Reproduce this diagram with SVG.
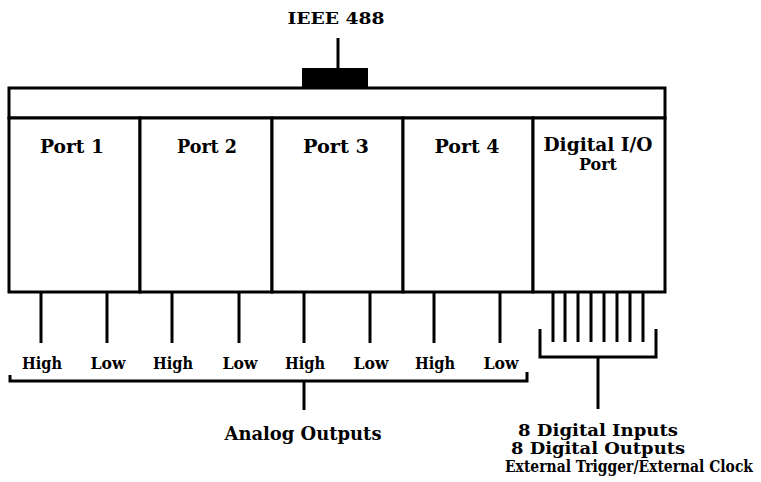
<svg xmlns="http://www.w3.org/2000/svg" width="761" height="482" viewBox="0 0 761 482">
<style>
text{font-family:"DejaVu Serif","Liberation Serif",serif;font-weight:bold;fill:#000;text-anchor:middle}
.p{font-size:19px}
.t{font-size:17px}
.d{font-size:16px}
.a{font-size:18px}
.s{font-size:16px}
.box{fill:#fff;stroke:#000;stroke-width:3}
.ln{stroke:#000;stroke-width:3;fill:none}
</style>
<rect width="761" height="482" fill="#fff"/>
<g id="bus">
<rect class="box" x="9" y="88" width="656" height="30"/>
<rect x="302" y="68" width="66" height="21" fill="#000"/>
<line class="ln" x1="338" y1="38" x2="338" y2="70"/>
<text class="t" x="336" y="24" textLength="97" lengthAdjust="spacingAndGlyphs">IEEE 488</text>
</g>
<g id="port1">
<rect class="box" x="9" y="118" width="131" height="174"/>
<text class="p" x="72" y="153" textLength="64" lengthAdjust="spacingAndGlyphs">Port 1</text>
</g>
<g id="port2">
<rect class="box" x="140" y="118" width="132" height="174"/>
<text class="p" x="207" y="153" textLength="60" lengthAdjust="spacingAndGlyphs">Port 2</text>
</g>
<g id="port3">
<rect class="box" x="272" y="118" width="131" height="174"/>
<text class="p" x="336" y="153" textLength="66" lengthAdjust="spacingAndGlyphs">Port 3</text>
</g>
<g id="port4">
<rect class="box" x="403" y="118" width="130" height="174"/>
<text class="p" x="467" y="153" textLength="65" lengthAdjust="spacingAndGlyphs">Port 4</text>
</g>
<g id="digital">
<rect class="box" x="533" y="118" width="132" height="174"/>
<text class="p" x="598" y="151" textLength="109" lengthAdjust="spacingAndGlyphs">Digital I/O</text>
<text class="t" x="598" y="170" textLength="38" lengthAdjust="spacingAndGlyphs">Port</text>
</g>
<g id="connectors">
<path class="ln" d="M41 292V343M107 292V343M172 292V343M239 292V343M304 292V343M370 292V343M434 292V343M500 292V343"/>
<path class="ln" d="M553 292V342M565 292V342M578 292V342M591 292V342M604 292V342M617 292V342M630 292V342M643 292V342"/>
<path class="ln" d="M10 375V381H527V372"/>
<line class="ln" x1="304" y1="381" x2="304" y2="410"/>
<path class="ln" d="M540 329V357H656V329"/>
<line class="ln" x1="598" y1="357" x2="598" y2="409"/>
</g>
<g id="labels">
<text class="s" x="42" y="369" textLength="40" lengthAdjust="spacingAndGlyphs">High</text>
<text class="s" x="108" y="369" textLength="35" lengthAdjust="spacingAndGlyphs">Low</text>
<text class="s" x="173" y="369" textLength="40" lengthAdjust="spacingAndGlyphs">High</text>
<text class="s" x="240" y="369" textLength="35" lengthAdjust="spacingAndGlyphs">Low</text>
<text class="s" x="305" y="369" textLength="40" lengthAdjust="spacingAndGlyphs">High</text>
<text class="s" x="371" y="369" textLength="35" lengthAdjust="spacingAndGlyphs">Low</text>
<text class="s" x="435" y="369" textLength="40" lengthAdjust="spacingAndGlyphs">High</text>
<text class="s" x="501" y="369" textLength="35" lengthAdjust="spacingAndGlyphs">Low</text>
<text class="a" x="303" y="440" textLength="157" lengthAdjust="spacingAndGlyphs">Analog Outputs</text>
<text class="d" x="598" y="436" textLength="160" lengthAdjust="spacingAndGlyphs">8 Digital Inputs</text>
<text class="d" x="598" y="454" textLength="174" lengthAdjust="spacingAndGlyphs">8 Digital Outputs</text>
<text class="d" transform="translate(629,472) scale(0.8,1)" x="0" y="0" textLength="310" lengthAdjust="spacingAndGlyphs">External Trigger/External Clock</text>
</g>
</svg>
